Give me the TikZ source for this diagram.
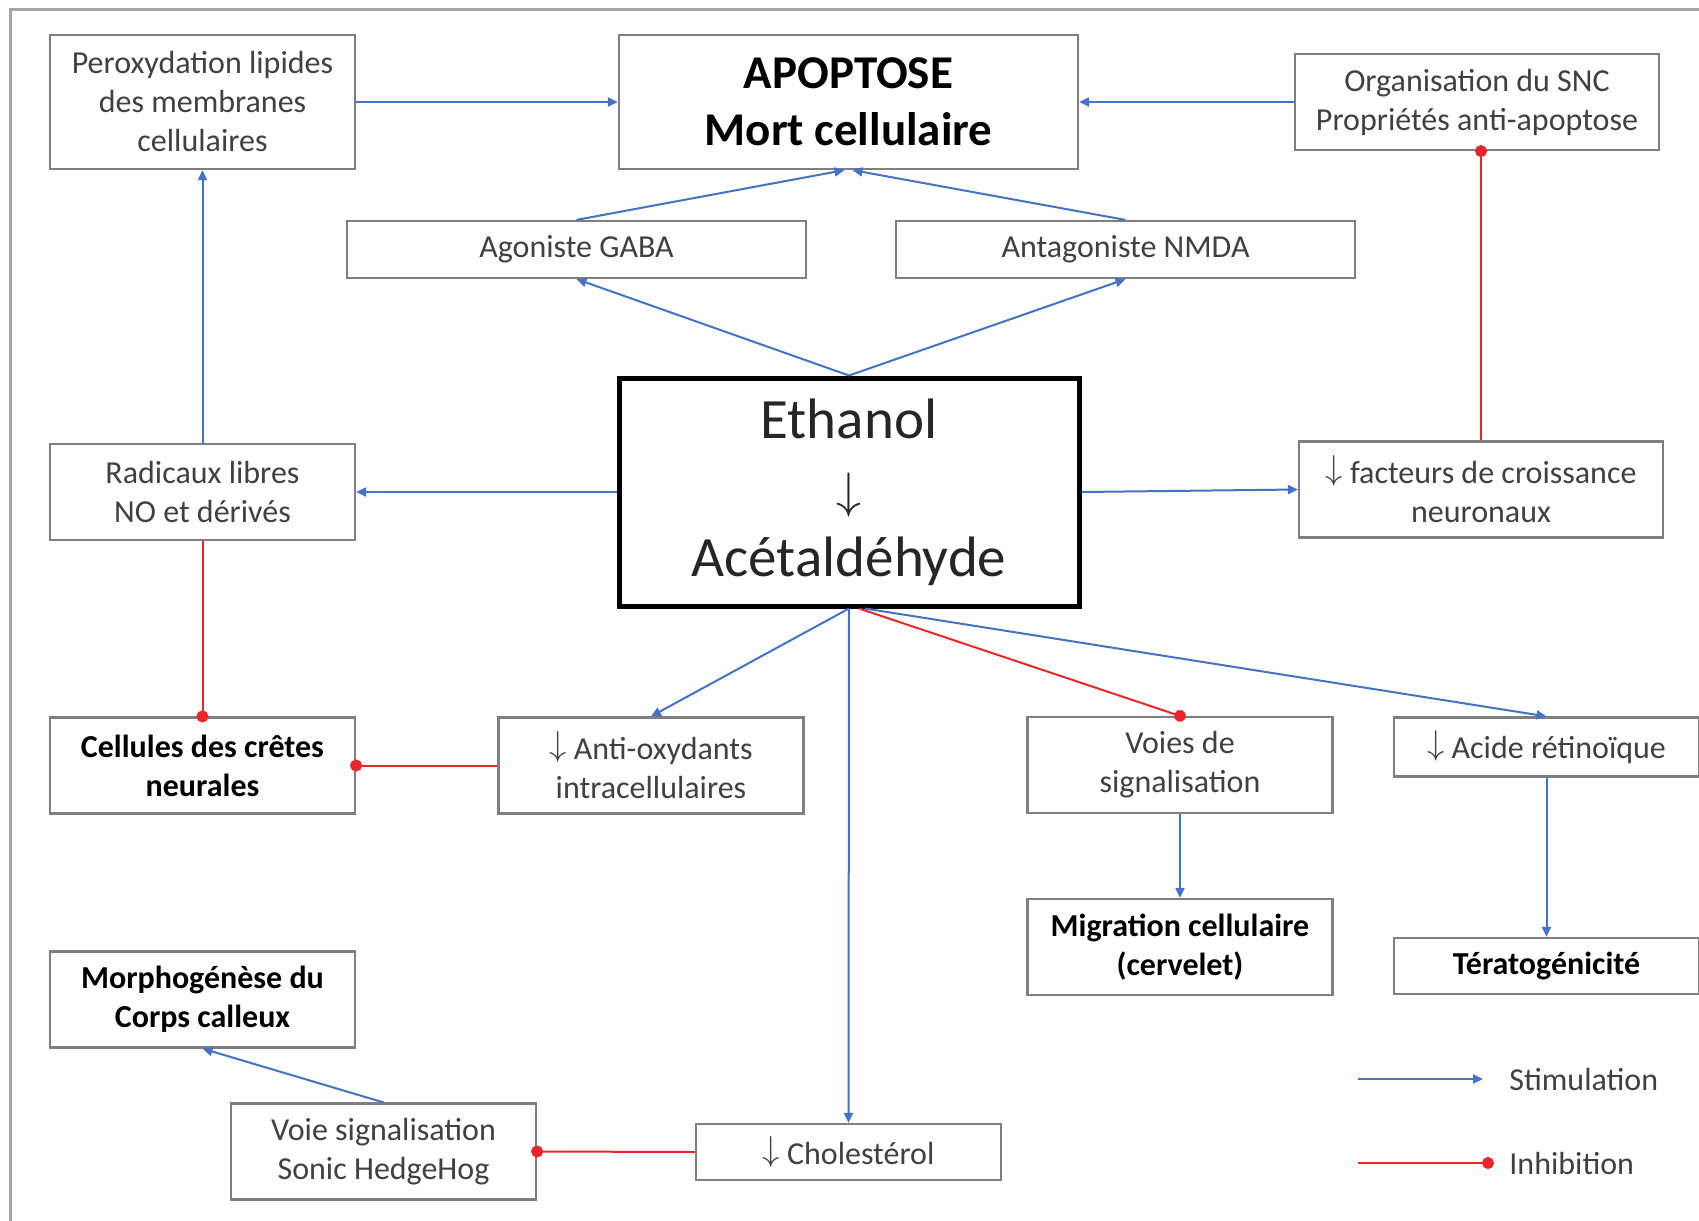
\documentclass[tikz,border=0pt]{standalone}
\usepackage{fontspec}
\setmainfont{Carlito}
\usetikzlibrary{arrows.meta, positioning}
\definecolor{stimblue}{HTML}{4472C4}
\definecolor{inhibred}{HTML}{E8262B}
\definecolor{boxgray}{HTML}{7F7F7F}
\definecolor{textgray}{HTML}{404040}
\definecolor{framegray}{HTML}{A6A6A6}
\newcommand{\baisse}{\raisebox{0.12em}{$\downarrow$}}

\tikzset{
  box/.style={draw=boxgray, line width=1.1pt, fill=white, text=textgray, align=center, inner sep=0pt,
    minimum width=152.5pt, minimum height=48pt, font=\fontsize{16}{19.5}\selectfont},
  boldbox/.style={box, text=black, font=\fontsize{16}{19.5}\selectfont\bfseries},
  legendtext/.style={text=textgray, inner sep=0pt, font=\fontsize{16}{19.5}\selectfont},
  stim/.style={stimblue, line width=1pt, -{Triangle[length=5pt,width=4.5pt]}},
  inhib/.style={inhibred, line width=1pt, -{Circle[length=6pt]}, shorten >=-3pt},
}

\begin{document}
\begin{tikzpicture}[x=0.5pt, y=-0.5pt]
  \useasboundingbox (0,0) rectangle (1699,1221);
  \draw[framegray, line width=1.5pt] (10,1221) -- (10,9) -- (1699,9);

  \node[box, minimum height=67pt] (perox) at (202.5,102) {Peroxydation lipides\\des membranes\\cellulaires};
  \node[box, text=black, minimum width=229.5pt, minimum height=67pt, font=\fontsize{23.5}{28.5}\selectfont\bfseries] (apop) at (848.5,102) {APOPTOSE\\Mort cellulaire};
  \node[box, minimum width=182pt] (org) at (1477,102) {Organisation du SNC\\Propriétés anti-apoptose};
  \node[box, minimum width=229.5pt, minimum height=28.5pt] (gaba) at (576.5,249.5) {Agoniste GABA};
  \node[box, minimum width=229.5pt, minimum height=28.5pt] (nmda) at (1125.5,249.5) {Antagoniste NMDA};
  \node[box, draw=black, line width=2.5pt, text=black!85, minimum width=230pt, minimum height=114pt, font=\fontsize{28.5}{34.5}\selectfont] (eth) at (849,492) {Ethanol\\{\fontsize{23}{34.5}\selectfont$\downarrow$}\\Acétaldéhyde};
  \node[box] (rad) at (202.5,492) {Radicaux libres\\NO et dérivés};
  \node[box, minimum width=182pt] (fact) at (1481,489.5) {\baisse{} facteurs de croissance\\neuronaux};
  \node[boldbox] (crest) at (202.5,765.5) {Cellules des crêtes\\neurales};
  \node[box] (antiox) at (651,765.5) {\baisse{} Anti-oxydants\\intracellulaires};
  \node[box] (voies) at (1180,765) {Voies de\\signalisation};
  \node[box, minimum height=29.5pt] (acide) at (1546.5,747) {\baisse{} Acide rétinoïque};
  \node[boldbox] (migr) at (1180,947) {Migration cellulaire\\(cervelet)};
  \node[boldbox, minimum height=28pt] (terat) at (1546.5,966) {Tératogénicité};
  \node[boldbox] (morph) at (202.5,999.5) {Morphogénèse du\\Corps calleux};
  \node[box] (sonic) at (383.5,1151.5) {Voie signalisation\\Sonic HedgeHog};
  \node[box, minimum height=28pt] (chol) at (848.5,1152) {\baisse{} Cholestérol};

  \draw[stim] (perox.east) -- (apop.west);
  \draw[stim] (org.west) -- (apop.east);
  \draw[stim] (gaba.north) -- ([xshift=-2pt]apop.south);
  \draw[stim] (nmda.north) -- ([xshift=2pt]apop.south);
  \draw[stim] (eth.north) -- (gaba.south);
  \draw[stim] (eth.north) -- (nmda.south);
  \draw[stim] (eth.west) -- (rad.east);
  \draw[stim] (eth.east) -- (fact.west);
  \draw[stim] (rad.north) -- (perox.south);
  \draw[inhib] (rad.south) -- (crest.north);
  \draw[inhib] (fact.north) -- (fact.north |- org.south);
  \draw[stim] (eth.south) -- (antiox.north);
  \draw[stim] (eth.south) -- (chol.north);
  \draw[inhib] ([xshift=5pt]eth.south) -- (voies.north);
  \draw[stim] ([xshift=8pt]eth.south) -- (acide.north);
  \draw[inhib] (antiox.west) -- (crest.east);
  \draw[stim] (voies.south) -- (migr.north);
  \draw[stim] (acide.south) -- (terat.north);
  \draw[inhib] (chol.west) -- (sonic.east);
  \draw[stim] (sonic.north) -- (morph.south);

  \coordinate (stimA) at (1358,1079);
  \coordinate (stimB) at (1483,1079);
  \coordinate (inhA) at (1358,1163);
  \coordinate (inhB) at (1488,1163);
  \draw[stim] (stimA) -- (stimB);
  \draw[inhib] (inhA) -- (inhB);
  \node[legendtext, anchor=west] (stimtxt) at (1509,1079) {Stimulation};
  \node[legendtext, anchor=west] (inhtxt) at (1509,1163) {Inhibition};
\end{tikzpicture}
\end{document}
